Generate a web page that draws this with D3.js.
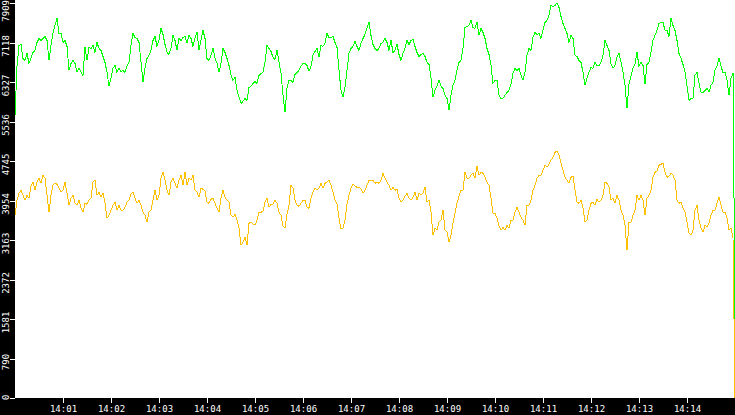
<!DOCTYPE html>
<html>
<head>
<meta charset="utf-8">
<script src="https://cdn.jsdelivr.net/npm/d3@7"></script>
<style>
  html, body { margin: 0; padding: 0; background: #fff; }
  svg { display: block; }
</style>
</head>
<body>
<svg id="chart" width="735" height="415"></svg>
<script>
// ---- data ----
const startTime = "2000-01-01T14:00:00";
const stepSeconds = 2.5;

const greenValues = [
5660,6640,7060,7080,6800,6760,6900,6700,6800,6920,6960,7120,7200,7160,7200,7240,7160,6760,7060,7300,
7460,7600,7300,7300,7120,7160,7040,6560,6700,6760,6700,6520,6600,6520,6460,7020,6760,7020,7000,7060,
6920,7120,7000,6960,6840,6720,6520,6240,6400,6600,6660,6520,6600,6540,6560,6520,6640,6720,7060,7300,
7220,7200,7120,6720,6320,6600,6800,6860,6960,7160,7240,7040,7160,7400,7280,7080,6920,6880,7000,7260,
7160,6960,7200,7160,7220,7240,7100,7260,7200,7040,7200,7320,6960,7160,7360,7200,6800,6760,6860,7000,
6800,6700,6520,6700,7000,6920,6800,6660,6460,6360,6420,6160,6020,5900,5940,6000,5960,6220,6240,6300,
6340,6300,6460,6500,6520,6720,7060,7000,6940,6820,6780,6960,6720,6500,6060,5720,6200,6360,6360,6320,
6480,6520,6560,6640,6700,6700,6660,6540,6640,6860,6940,7000,6820,7060,7040,7100,7300,7220,7220,7240,
7120,7020,6560,6160,6020,6220,6560,6900,7000,7040,7140,7040,6960,7100,7200,7280,7400,7520,7260,7080,
7000,6960,7000,7100,7120,7200,7120,6960,7160,6920,6960,7080,6880,6760,6900,7000,7160,7080,7160,7180,
7040,6920,6840,6880,6900,6840,6720,6680,6400,6020,6160,6240,6360,6240,6200,6060,6000,5760,6060,6260,
6360,6560,6720,6760,7000,7420,7440,7460,7560,7420,7400,7520,7260,7400,7320,7200,7000,6880,6660,6300,
6360,6360,6060,6000,6000,6060,6120,6160,6280,6500,6600,6560,6600,6460,6360,6520,6860,7000,6960,7220,
7320,7280,7300,7200,7360,7520,7560,7660,7860,7840,7860,7909,7820,7640,7500,7400,7300,7120,7260,7200,
6860,6840,6760,6720,6520,6260,6400,6520,6620,6600,6720,6660,6660,6720,6860,7160,7060,6960,6680,6600,
6660,6820,6900,6720,6520,6260,5800,6280,6440,6600,6680,6920,6640,6720,6660,6280,6680,6720,6920,7160,
7260,7360,7500,7520,7520,7360,7360,7240,7600,7460,7360,7160,6900,6800,6680,6520,6240,5960,6000,6000,
6460,6520,6300,6120,6120,6160,6200,6120,6260,6320,6560,6640,6800,6640,6520,6520,6360,6060,6400,6500,
1560
];

const yellowValues = [
3660,3960,4100,4160,4060,3960,4060,4000,4240,4320,4160,4320,4400,4300,4460,4400,4060,3720,4060,4260,
4300,4280,4200,4120,4160,4320,4100,3860,4000,4060,3900,3860,3960,3800,3720,3900,3880,3960,4000,4320,
4360,4060,4120,4020,4100,3900,3600,3660,3760,3860,3920,3760,3860,3760,3760,3820,3920,3960,4080,4120,
4000,3900,3960,3860,3720,3660,3520,3720,3760,3960,4160,3960,4060,4400,4520,4360,4160,4060,4320,4400,
4300,4200,4360,4460,4260,4520,4260,4400,4360,4460,4160,4120,4020,4200,4180,4140,3920,3900,3980,4000,
3900,3800,3720,4000,4160,4020,3960,3920,3660,3620,3680,3560,3400,3060,3120,3220,3060,3500,3520,3480,
3460,3560,3720,3720,3740,3920,4000,3820,3880,3880,3960,3900,3720,3660,3440,3400,3680,3860,4260,4200,
3960,3860,3840,3900,3960,3960,3820,3800,4000,4120,4200,4160,4200,4300,4200,4300,4320,4360,4260,4120,
3960,3880,3600,3380,3400,3560,3880,4060,4200,4280,4240,4220,4220,4180,4100,4160,4260,4360,4360,4360,
4300,4320,4300,4360,4500,4400,4320,4260,4160,4220,4160,4180,4000,3920,3960,4040,4100,4000,3960,4020,
4120,3960,4100,4060,4100,4220,3920,3960,3720,3260,3400,3360,3520,3560,3760,3360,3320,3120,3260,3500,
3700,3900,4040,4160,4160,4520,4400,4400,4460,4500,4400,4640,4460,4520,4500,4420,4320,4260,4000,3700,
3700,3600,3440,3360,3420,3360,3460,3400,3560,3560,3720,3820,3720,3620,3560,3460,3860,3860,3960,4160,
4260,4400,4460,4460,4560,4660,4620,4680,4760,4820,4920,4940,4860,4700,4560,4420,4360,4300,4420,4440,
4160,3920,3900,3960,3800,3520,3560,3760,3900,3920,3860,3980,3920,3960,4060,4320,4300,4220,3960,4000,
3900,4060,3960,3760,3660,3460,2960,3520,3520,3660,3760,4060,3960,4060,3960,3660,4000,4060,4160,4420,
4520,4540,4660,4680,4700,4520,4420,4440,4500,4460,4360,3960,3900,3920,3800,3720,3520,3300,3260,3360,
3760,3860,3560,3400,3320,3460,3420,3500,3660,3760,3760,3900,4020,3860,3720,3720,3600,3360,3400,3200,
0
];

const xTickLabels = ["14:01","14:02","14:03","14:04","14:05","14:06","14:07",
                     "14:08","14:09","14:10","14:11","14:12","14:13","14:14"];
const yTicks = [0, 790.9, 1581.8, 2372.7, 3163.6, 3954.5, 4745.4, 5536.3, 6327.2, 7118.1, 7909];
const xDomain = ["2000-01-01T14:00:00", "2000-01-01T14:15:00"];

const greenColor = "#00ff00";
const yellowColor = "#ffc000";

// ---- layout ----
const W = 735, H = 415;
const plotLeft = 15, plotBottom = 398, plotTop = 3;

const svg = d3.select("#chart");
svg.append("rect").attr("x", 0).attr("y", 0).attr("width", W).attr("height", H).attr("fill", "#fff");

const t0 = new Date(startTime);
const toSeries = vals => vals.map((v, i) => ({ t: new Date(t0.getTime() + i * stepSeconds * 1000), v }));
const green = toSeries(greenValues);
const yellow = toSeries(yellowValues);

const x = d3.scaleTime().domain(xDomain.map(s => new Date(s))).range([plotLeft, W]);
const y = d3.scaleLinear().domain([0, 7909]).range([plotBottom, plotTop]);

const line = d3.line().x(d => x(d.t)).y(d => y(d.v));

svg.append("path").datum(green).attr("d", line)
  .attr("fill", "none").attr("stroke", greenColor).attr("stroke-width", 1)
  .attr("shape-rendering", "crispEdges");
svg.append("path").datum(yellow).attr("d", line)
  .attr("fill", "none").attr("stroke", yellowColor).attr("stroke-width", 1)
  .attr("shape-rendering", "crispEdges");

// black axis strips
svg.append("rect").attr("x", 0).attr("y", 0).attr("width", plotLeft).attr("height", H).attr("fill", "#000");
svg.append("rect").attr("x", 0).attr("y", plotBottom).attr("width", W).attr("height", H - plotBottom).attr("fill", "#000");

const fontFamily = "'DejaVu Sans Mono', 'Liberation Mono', monospace";

// x axis
const parseHM = d3.timeParse("%Y-%m-%d %H:%M");
const xTickDates = xTickLabels.map(s => parseHM("2000-01-01 " + s));
const xAxis = d3.axisBottom(x).tickValues(xTickDates).tickFormat(d3.timeFormat("%H:%M")).tickSize(5).tickPadding(3);
const gx = svg.append("g").attr("transform", `translate(0,${plotBottom})`).call(xAxis);
gx.select(".domain").remove();
gx.selectAll("line").attr("stroke", "#fff").attr("shape-rendering", "crispEdges");
gx.selectAll("text").attr("fill", "#fff").style("font-family", fontFamily).style("font-size", "9px");

// y axis
const yAxis = d3.axisLeft(y).tickValues(yTicks).tickFormat(d => String(Math.floor(d + 1e-6))).tickSize(5);
const gy = svg.append("g").attr("transform", `translate(${plotLeft},0)`).call(yAxis);
gy.select(".domain").remove();
gy.selectAll("line").attr("stroke", "#fff").attr("shape-rendering", "crispEdges");
gy.selectAll(".tick").each(function(d) {
  const g = d3.select(this);
  const py = y(d) + 0.5;
  const label = String(Math.floor(d + 1e-6));
  const half = label.length * 9 * 0.602 / 2;
  let c = py + 3;
  if (c - half < 0) c = half;
  if (c + half > 400) c = 400 - half;
  const dy = c - py;
  g.select("text")
    .attr("x", null).attr("dy", null)
    .attr("text-anchor", "middle")
    .attr("transform", `translate(-6,${dy}) rotate(-90)`)
    .attr("fill", "#fff")
    .style("font-family", fontFamily).style("font-size", "9px");
});
</script>
</body>
</html>
